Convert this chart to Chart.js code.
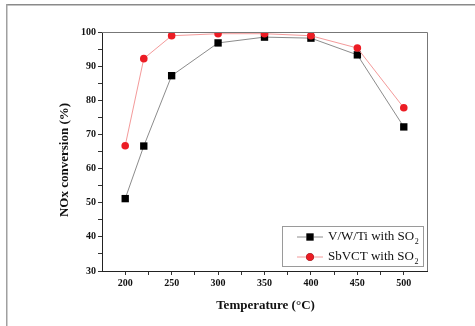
<!DOCTYPE html>
<html><head><meta charset="utf-8">
<script src="https://cdn.jsdelivr.net/npm/chart.js@4/dist/chart.umd.min.js"></script>
<style>html,body{margin:0;padding:0;background:#fff;} #wrap{position:relative;width:475px;height:326px;}</style>
</head><body><div id="wrap"><canvas id="c" width="475" height="326"></canvas></div>
<script>
const temperatures = [200, 220, 250, 300, 350, 400, 450, 500];
const vwtiValues = [51.2, 66.6, 87.2, 96.8, 98.5, 98.2, 93.3, 72.2];
const sbvctValues = [66.7, 92.2, 98.9, 99.5, 99.5, 98.9, 95.3, 77.8];
const seriesLabels = ['V/W/Ti with SO₂', 'SbVCT with SO₂'];
const xTickLabels = [200, 250, 300, 350, 400, 450, 500];
const yTickLabels = [30, 40, 50, 60, 70, 80, 90, 100];
const xTitle = 'Temperature (°C)';
const yTitle = 'NOx conversion (%)';

const SERIF = '"Liberation Serif", "Times New Roman", serif';

function pts(vals) { return temperatures.map((t, i) => ({x: t, y: vals[i]})); }

const decor = {
  id: 'decor',
  beforeDraw(chart) {
    const ctx = chart.ctx;
    ctx.save();
    ctx.fillStyle = '#fff';
    ctx.fillRect(0, 0, chart.width, chart.height);
    ctx.fillStyle = '#8a8a8a';
    ctx.fillRect(6, 4, 475, 1.5);
    ctx.fillStyle = '#a0a0a0';
    ctx.fillRect(6, 4, 1.5, 322);
    ctx.restore();
  },
  afterDraw(chart) {
    const ctx = chart.ctx;
    const a = chart.chartArea;
    ctx.save();
    ctx.strokeStyle = '#777';
    ctx.lineWidth = 1;
    ctx.beginPath();
    ctx.moveTo(a.left, a.top + 0.5);
    ctx.lineTo(a.right + 0.5, a.top + 0.5);
    ctx.lineTo(a.right + 0.5, a.bottom);
    ctx.stroke();
    ctx.fillStyle = '#111';
    ctx.font = 'bold 13px ' + SERIF;
    ctx.textAlign = 'center';
    ctx.textBaseline = 'middle';
    ctx.fillText(xTitle, (a.left + a.right) / 2 + 1, 306);
    ctx.save();
    ctx.translate(65, 160);
    ctx.rotate(-Math.PI / 2);
    ctx.fillText(yTitle, 0, 0);
    ctx.restore();
    const bx = 282.5, by = 226.5, bw = 141, bh = 40;
    ctx.fillStyle = '#fff';
    ctx.fillRect(bx, by, bw, bh);
    ctx.strokeStyle = '#9a9a9a';
    ctx.strokeRect(bx, by, bw, bh);
    const order = [1, 0];
    const rows = [237, 257];
    order.forEach((di, r) => {
      const ds = chart.data.datasets[di];
      const y = rows[r];
      ctx.strokeStyle = ds.borderColor;
      ctx.lineWidth = 1;
      ctx.beginPath();
      ctx.moveTo(297, y);
      ctx.lineTo(323, y);
      ctx.stroke();
      Chart.helpers.drawPoint(ctx, {pointStyle: ds.pointStyle, radius: ds.pointRadius, borderWidth: 0, rotation: 0}, 310, y);
      ctx.fillStyle = ds.pointBackgroundColor;
      ctx.fill();
      const label = ds.label;
      const base = label.replace('₂', '');
      ctx.fillStyle = '#111';
      ctx.font = '13px ' + SERIF;
      ctx.textAlign = 'left';
      ctx.textBaseline = 'middle';
      ctx.fillText(base, 328, y);
      const w = ctx.measureText(base).width;
      ctx.font = '8px ' + SERIF;
      ctx.fillText('2', 328 + w + 0.5, y + 5);
    });
    ctx.restore();
  }
};

const tickFont = {family: SERIF, size: 10, weight: 'bold'};

new Chart(document.getElementById('c'), {
  type: 'line',
  data: {
    datasets: [
      {
        label: seriesLabels[1], data: pts(sbvctValues), order: 0,
        borderColor: '#f49a9a', borderWidth: 1,
        pointStyle: 'circle', pointRadius: 3.8, pointBorderWidth: 0,
        pointBackgroundColor: '#ec1c24', pointBorderColor: '#ec1c24',
        tension: 0
      },
      {
        label: seriesLabels[0], data: pts(vwtiValues), order: 1,
        borderColor: '#8c8c8c', borderWidth: 1,
        pointStyle: 'rect', pointRadius: 5.2, pointBorderWidth: 0,
        pointBackgroundColor: '#000', pointBorderColor: '#000',
        tension: 0
      }
    ]
  },
  options: {
    responsive: false, animation: false, devicePixelRatio: 1,
    layout: {padding: {left: 52, right: 48, top: 32, bottom: 10}},
    plugins: {legend: {display: false}, tooltip: {enabled: false}},
    scales: {
      x: {
        type: 'linear', min: 175, max: 525,
        afterBuildTicks: s => { s.ticks = s.ticks.filter(t => t.value > 175 && t.value < 525); },
        afterFit: s => { s.height = 45; },
        ticks: {stepSize: 25, autoSkip: false, maxRotation: 0, padding: 2, color: '#111', font: tickFont,
          callback: v => xTickLabels.includes(v) ? String(v) : ''},
        grid: {drawOnChartArea: false, drawTicks: true, tickLength: 4, color: '#333'},
        border: {color: '#222', width: 1}
      },
      y: {
        min: 30, max: 100,
        afterFit: s => { s.width = 50; },
        ticks: {stepSize: 5, autoSkip: false, padding: 2, color: '#111', font: tickFont,
          callback: v => yTickLabels.includes(v) ? String(v) : ''},
        grid: {drawOnChartArea: false, drawTicks: true, tickLength: 4, color: '#333'},
        border: {color: '#222', width: 1}
      }
    }
  },
  plugins: [decor]
});
</script></body></html>
